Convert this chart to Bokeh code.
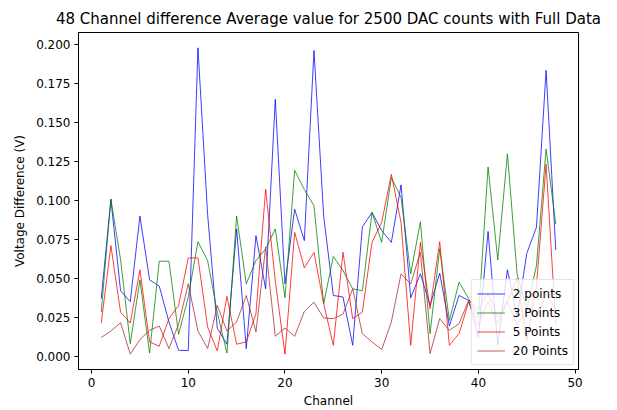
from bokeh.plotting import figure
from bokeh.models import Range1d, FixedTicker, PrintfTickFormatter, Legend, LegendItem
from bokeh.embed import file_html
from bokeh.resources import INLINE

# Channel numbers 1..48
channels = list(range(1, 49))

# Average voltage difference per channel (V) for each averaging window
pts2 = [0.037, 0.1008, 0.042, 0.035, 0.090, 0.049, 0.045, 0.022, 0.0038, 0.0036,
        0.198, 0.091, 0.018, 0.0077, 0.0817, 0.0049, 0.0774, 0.0433, 0.165, 0.0465,
        0.0944, 0.0742, 0.1963, 0.090, 0.039, 0.038, 0.007, 0.083, 0.0923, 0.0806,
        0.0731, 0.110, 0.0375, 0.0529, 0.0326, 0.0533, 0.0194, 0.039, 0.0358, 0.012,
        0.0801, 0.007, 0.0555, 0.025, 0.066, 0.0827, 0.1835, 0.0682]
pts3 = [0.0283, 0.1008, 0.062, 0.0081, 0.049, 0.002, 0.061, 0.061, 0.014, 0.038,
        0.0735, 0.0614, 0.028, 0.002, 0.090, 0.0465, 0.0614, 0.0689, 0.0817, 0.0375,
        0.1194, 0.107, 0.0966, 0.0337, 0.064, 0.055, 0.0433, 0.042, 0.0923, 0.0731,
        0.1147, 0.102, 0.0529, 0.0863, 0.0145, 0.0689, 0.023, 0.0475, 0.037, 0.025,
        0.1215, 0.0618, 0.130, 0.0529, 0.030, 0.058, 0.133, 0.0849]
pts5 = [0.0213, 0.071, 0.0283, 0.0213, 0.0554, 0.0092, 0.0064, 0.0241, 0.0326, 0.0631,
        0.0631, 0.0188, 0.0034, 0.0384, 0.0077, 0.0092, 0.0273, 0.1072, 0.0482, 0.0013,
        0.0795, 0.0567, 0.0667, 0.0337, 0.007, 0.0667, 0.0241, 0.0283, 0.0731, 0.0859,
        0.1168, 0.0859, 0.007, 0.0731, 0.0305, 0.0735, 0.007, 0.0145, 0.035, 0.020,
        0.035, 0.021, 0.035, 0.050, 0.010, 0.045, 0.1232, 0.020]
pts20 = [0.012, 0.0162, 0.0215, 0.0013, 0.0107, 0.0166, 0.0194, 0.0049, 0.0205, 0.0465,
         0.0162, 0.0049, 0.0326, 0.0162, 0.022, 0.039, 0.0156, 0.070, 0.0128, 0.0181,
         0.0128, 0.0288, 0.0347, 0.0245, 0.0241, 0.027, 0.0433, 0.0145, 0.0092, 0.0043,
         0.022, 0.0529, 0.0465, 0.0667, 0.0017, 0.0241, 0.0166, 0.0209, 0.036, 0.030,
         0.040, 0.025, 0.035, 0.020, 0.030, 0.025, 0.040, 0.030]

series_labels = ["2 points", "3 Points", "5 Points", "20 Points"]
series_colors = ["#0000ff", "#008000", "#ff0000", "#a52a2a"]
x_ticks = [0, 10, 20, 30, 40, 50]
y_ticks = [0.0, 0.025, 0.05, 0.075, 0.1, 0.125, 0.15, 0.175, 0.2]

FONT = "DejaVu Sans"

# autoscale with 5% padding on both axes
all_y = pts2 + pts3 + pts5 + pts20
ymin, ymax = min(all_y), max(all_y)
ypad = 0.05 * (ymax - ymin)
xpad = 0.05 * (channels[-1] - channels[0])

p = figure(width=617, height=410, output_backend="svg", toolbar_location=None,
           x_range=Range1d(channels[0] - xpad, channels[-1] + xpad),
           y_range=Range1d(ymin - ypad, ymax + ypad),
           min_border_left=78, min_border_right=39, min_border_top=32, min_border_bottom=40)

p.title.text = "48 Channel difference Average value for 2500 DAC counts with Full Data"
p.title.align = "center"
p.title.text_font = FONT
p.title.text_font_size = "15px"
p.title.text_font_style = "normal"
p.title.text_color = "#000000"
p.title.standoff = 10

p.xgrid.visible = False
p.ygrid.visible = False
p.outline_line_color = "#000000"
p.outline_line_width = 1
p.background_fill_color = "#ffffff"
p.border_fill_color = "#ffffff"

p.xaxis.ticker = FixedTicker(ticks=x_ticks)
p.yaxis.ticker = FixedTicker(ticks=y_ticks)
p.yaxis.formatter = PrintfTickFormatter(format="%.3f")
p.xaxis.axis_label = "Channel"
p.yaxis.axis_label = "Voltage Difference (V)"
for ax in (p.xaxis, p.yaxis):
    ax.major_label_text_font = FONT
    ax.major_label_text_font_size = "12px"
    ax.major_label_text_color = "#000000"
    ax.axis_label_text_font = FONT
    ax.axis_label_text_font_size = "12px"
    ax.axis_label_text_font_style = "normal"
    ax.axis_label_text_color = "#000000"
    ax.major_tick_in = 0
    ax.major_tick_out = 4
    ax.minor_tick_in = 0
    ax.minor_tick_out = 0
    ax.axis_line_color = "#000000"
    ax.major_tick_line_color = "#000000"
    ax.major_label_standoff = 4
p.yaxis.axis_label_standoff = 6
p.xaxis.axis_label_standoff = 4

items = []
for ys, lab, col in zip([pts2, pts3, pts5, pts20], series_labels, series_colors):
    r = p.line(channels, ys, line_color=col, line_width=0.9, line_alpha=0.85)
    items.append(LegendItem(label=lab, renderers=[r]))

legend = Legend(items=items, location="bottom_right")
legend.label_text_font = FONT
legend.label_text_font_size = "12px"
legend.label_text_color = "#000000"
legend.glyph_width = 28
legend.glyph_height = 17
legend.label_height = 17
legend.label_standoff = 8
legend.spacing = 2
legend.padding = 5
legend.margin = 4
legend.background_fill_alpha = 0.8
legend.border_line_color = "#cccccc"
legend.border_line_width = 1
p.add_layout(legend)

open("out.html", "w").write(file_html(p, INLINE))
